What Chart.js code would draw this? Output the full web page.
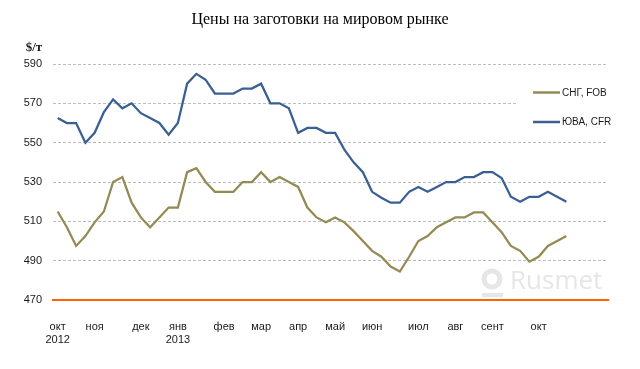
<!DOCTYPE html>
<html>
<head>
<meta charset="utf-8">
<script src="https://cdn.jsdelivr.net/npm/chart.js@4.4.0/dist/chart.umd.min.js"></script>
<style>
  html, body { margin: 0; padding: 0; background: #fff; }
  #wrap { width: 640px; height: 369px; }
</style>
</head>
<body>
<div id="wrap"><canvas id="priceChart"></canvas></div>
<script>
// weekly slots on the category axis, month names sit on the first week of each month
const weekCount = 60;
const monthNames = ['окт', 'ноя', 'дек', 'янв', 'фев', 'мар', 'апр', 'май', 'июн', 'июл', 'авг', 'сент', 'окт'];
const monthWeeks = [0, 4, 9, 13, 18, 22, 26, 30, 34, 39, 43, 47, 52];
const yearLabels = { 0: '2012', 13: '2013' };

// $/т, weekly
const cisFob = [515, 507, 497.5, 502.5, 509.5, 515, 530, 532.5, 519.5, 512, 507, 512, 517, 517,
  535, 537, 530, 525, 525, 525, 530, 530, 535, 530, 532.5, 530, 527.5, 517, 512, 509.5,
  512, 509.5, 505, 500, 495, 492, 487, 484.5, 492, 500, 502.5, 507, 509.5, 512, 512, 514.5,
  514.5, 509.5, 504.5, 497.5, 495, 489.5, 492, 497.5, 500, 502.5];
const seaCfr = [562.5, 560, 560, 550, 555, 565.5, 572, 567.5, 570, 565, 562.5, 560, 554, 560,
  580, 585, 582, 575, 575, 575, 577.5, 577.5, 580, 570, 570, 567.5, 555, 557.5, 557.5, 555,
  555, 546.5, 540, 535, 525, 522, 519.5, 519.5, 525, 527.5, 525, 527.5, 530, 530, 532.5, 532.5,
  535, 535, 532, 522.5, 520, 522.5, 522.5, 525, 522.5, 520];

const yMin = 470;
const yMax = 590;
const yStep = 20;

const chartTitle = 'Цены на заготовки на мировом рынке';
const unitLabel = '$/т';
const seriesNames = ['СНГ, FOB', 'ЮВА, CFR'];
const seriesColors = ['#948a54', '#3a6093'];

const weeks = [];
for (let i = 0; i < weekCount; i++) weeks.push('');
monthWeeks.forEach((w, k) => {
  weeks[w] = yearLabels[w] ? [monthNames[k], yearLabels[w]] : monthNames[k];
});

// title, unit label, watermark and the boxed legend inside the plot
const extras = {
  id: 'extras',
  beforeDatasetsDraw(chart) {
    const ctx = chart.ctx;
    const a = chart.chartArea;
    ctx.save();
    ctx.fillStyle = '#e6e6e6';
    ctx.strokeStyle = '#e6e6e6';
    ctx.lineWidth = 5;
    ctx.beginPath();
    ctx.arc(a.right - 116, a.bottom - 21, 8, 0, Math.PI * 2);
    ctx.stroke();
    ctx.fillRect(a.right - 126, a.bottom - 7, 21, 4);
    ctx.font = '26px "Open Sans"';
    ctx.textBaseline = 'alphabetic';
    ctx.textAlign = 'left';
    ctx.fillText('Rusmet', a.right - 98, a.bottom - 11);

    ctx.fillStyle = '#fff';
    ctx.fillRect(a.right - 91, a.top + 14, 100, 58);
    ctx.lineWidth = 2.5;
    ctx.font = '10px "Liberation Sans"';
    ctx.textBaseline = 'middle';
    seriesNames.forEach((name, i) => {
      const y = a.top + 28.5 + i * 29.5;
      ctx.strokeStyle = seriesColors[i];
      ctx.beginPath();
      ctx.moveTo(a.right - 75, y);
      ctx.lineTo(a.right - 48, y);
      ctx.stroke();
      ctx.fillStyle = '#1a1a1a';
      ctx.fillText(name, a.right - 46, y + 0.5);
    });
    ctx.restore();
  },
  afterDraw(chart) {
    const ctx = chart.ctx;
    ctx.save();
    ctx.textAlign = 'center';
    ctx.textBaseline = 'middle';
    ctx.fillStyle = '#000';
    ctx.font = '16px "Liberation Serif"';
    ctx.fillText(chartTitle, chart.width / 2, 20);
    ctx.fillStyle = '#1a1a1a';
    ctx.font = 'bold 13px "Liberation Serif"';
    ctx.fillText(unitLabel, 34, 48);
    ctx.restore();
  }
};

new Chart(document.getElementById('priceChart'), {
  type: 'line',
  data: {
    labels: weeks,
    datasets: [
      { label: seriesNames[0], data: cisFob, borderColor: seriesColors[0] },
      { label: seriesNames[1], data: seaCfr, borderColor: seriesColors[1] }
    ]
  },
  options: {
    responsive: true,
    maintainAspectRatio: false,
    animation: false,
    elements: {
      line: { borderWidth: 2.25, tension: 0, fill: false },
      point: { radius: 0 }
    },
    layout: { padding: { left: 0, right: 32, top: 64, bottom: 23 } },
    plugins: {
      legend: { display: false },
      tooltip: { enabled: false },
      title: { display: false }
    },
    scales: {
      x: {
        offset: true,
        grid: { display: false, drawTicks: false },
        border: { display: true, color: '#ff6600', width: 2 },
        ticks: {
          autoSkip: false,
          maxRotation: 0,
          padding: 20,
          color: '#1a1a1a',
          font: { family: '"Liberation Sans"', size: 11 }
        },
        afterFit(scale) { scale.height = 46; }
      },
      y: {
        min: yMin,
        max: yMax,
        grid: { color: '#bdbdbd', borderDash: [3, 2], drawTicks: false },
        border: { display: false, dash: [3, 2] },
        ticks: {
          stepSize: yStep,
          padding: 11,
          color: '#1a1a1a',
          font: { family: '"Liberation Sans"', size: 11 }
        },
        afterFit(scale) { scale.width = 53; }
      }
    }
  },
  plugins: [extras]
});
</script>
</body>
</html>
